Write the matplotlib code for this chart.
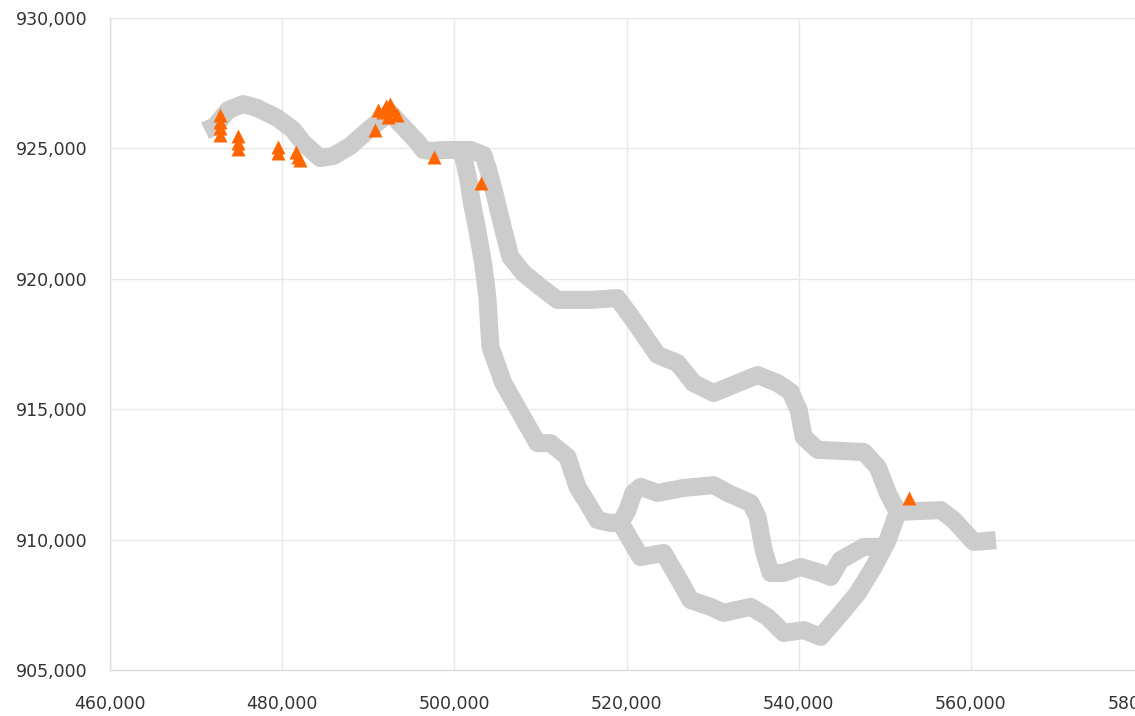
import matplotlib
matplotlib.use("Agg")
import matplotlib.pyplot as plt
from matplotlib.ticker import FuncFormatter

# route tracks (x, y in thousands)
main_x = [471.05, 472.21, 473.72, 475.47, 477.09, 479.42, 481.28, 482.44, 484.42, 485.93,
          487.91, 489.88, 491.74, 492.56, 494.07, 495.70, 496.40, 497.21, 498.95, 501.86,
          503.37, 503.95, 504.77, 505.70, 506.51, 508.02, 510.00, 511.98, 515.81, 518.95,
          520.81, 523.60, 525.93, 527.79, 530.12, 532.91, 535.23, 537.56, 539.07, 540.00,
          540.58, 542.21, 547.56, 549.19, 550.35, 551.51, 556.51, 558.02, 560.35, 562.91]
main_y = [925.67, 925.86, 926.47, 926.70, 926.55, 926.17, 925.71, 925.21, 924.63, 924.71,
          925.09, 925.67, 926.17, 926.36, 925.82, 925.25, 924.94, 924.90, 924.94, 924.94,
          924.75, 924.17, 923.14, 921.87, 920.84, 920.22, 919.69, 919.19, 919.19, 919.26,
          918.42, 917.08, 916.77, 916.00, 915.62, 916.00, 916.31, 916.00, 915.66, 914.97,
          913.93, 913.44, 913.36, 912.78, 911.79, 911.06, 911.13, 910.75, 909.91, 909.98]

south_x = [500.93, 501.63, 502.09, 502.67, 503.37, 503.84, 504.19, 505.70, 507.67, 509.65,
           511.16, 513.14, 514.30, 515.47, 516.63, 518.14, 519.30, 520.47, 521.63, 524.30,
           525.93, 527.44, 529.77, 531.28, 534.42, 536.40, 538.26, 540.58, 542.56, 545.23,
           546.86, 548.72, 550.35, 551.51]
south_y = [924.86, 923.79, 922.83, 921.87, 920.53, 919.30, 917.39, 916.00, 914.85, 913.70,
           913.70, 913.17, 912.02, 911.40, 910.75, 910.64, 910.64, 909.98, 909.33, 909.49,
           908.57, 907.68, 907.42, 907.19, 907.42, 907.03, 906.42, 906.53, 906.27, 907.30,
           907.95, 908.95, 909.98, 911.06]

loop_x = [519.30, 520.12, 520.81, 521.63, 523.60, 526.63, 530.12, 531.74, 534.42, 535.23,
          535.93, 536.74, 538.26, 540.23, 542.56, 543.72, 544.88, 547.56, 549.90]
loop_y = [910.64, 911.13, 911.79, 912.02, 911.79, 911.98, 912.09, 911.79, 911.40, 910.87,
          909.60, 908.72, 908.72, 908.95, 908.72, 908.57, 909.22, 909.72, 909.72]

# sightings
pts_x = [472.79, 472.79, 472.79, 472.79, 474.88, 474.88, 474.88, 479.53, 479.53,
         481.63, 481.86, 482.09, 490.81, 491.16, 491.74, 492.09, 492.56, 492.91,
         493.37, 492.33, 497.67, 503.14, 552.79]
pts_y = [926.28, 926.01, 925.78, 925.51, 925.48, 925.21, 924.98, 925.05, 924.82,
         924.86, 924.67, 924.56, 925.71, 926.47, 926.40, 926.63, 926.70, 926.47,
         926.28, 926.20, 924.67, 923.67, 911.60]

x_ticks = [460, 480, 500, 520, 540, 560, 580]
y_ticks = [905, 910, 915, 920, 925, 930]

fig = plt.figure(figsize=(11.35, 7.16), dpi=100)
ax = fig.add_axes([110 / 1135, 46 / 716, 1033 / 1135, 652 / 716])

for xs, ys in [(main_x, main_y), (south_x, south_y), (loop_x, loop_y)]:
    ax.plot([v * 1000 for v in xs], [v * 1000 for v in ys], color="#cccccc", lw=13,
            solid_joinstyle="round", solid_capstyle="butt", zorder=2)

ax.plot([v * 1000 for v in pts_x], [v * 1000 for v in pts_y], ls="none", marker="^",
        ms=9.5, color="#ff6600", mec="none", zorder=3)

ax.set_xlim(460000, 580000)
ax.set_ylim(905000, 930000)
ax.set_xticks([v * 1000 for v in x_ticks])
ax.set_yticks([v * 1000 for v in y_ticks])
fmt = FuncFormatter(lambda v, p: f"{int(round(v)):,}")
ax.xaxis.set_major_formatter(fmt)
ax.yaxis.set_major_formatter(fmt)
ax.tick_params(axis="both", length=0, labelsize=12.5, labelcolor="#333333")
ax.tick_params(axis="x", pad=18)
ax.tick_params(axis="y", pad=16)
ax.grid(True, color="#e8e8e8", lw=1)
ax.set_axisbelow(True)
for s in ["top", "right"]:
    ax.spines[s].set_visible(False)
for s in ["left", "bottom"]:
    ax.spines[s].set_color("#dddddd")
    ax.spines[s].set_linewidth(1)

fig.savefig("out.png", dpi=100)
